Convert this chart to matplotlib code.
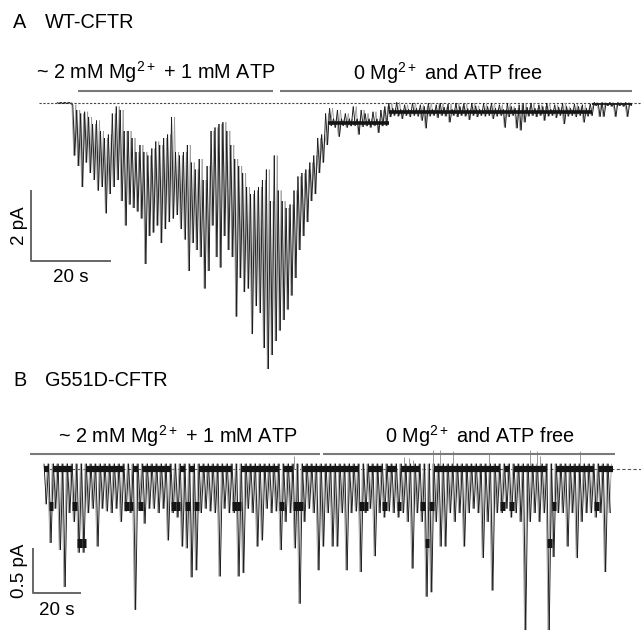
import numpy as np
import matplotlib
matplotlib.use("Agg")
import matplotlib.pyplot as plt
from matplotlib.collections import LineCollection

plt.rcParams['font.family'] = ['Liberation Sans', 'DejaVu Sans']
plt.rcParams['mathtext.fontset'] = 'custom'
plt.rcParams['mathtext.rm'] = 'Liberation Sans'
plt.rcParams['mathtext.default'] = 'regular'

W, H = 641, 639

# ---- panel A: WT-CFTR, 1 s samples, envelope of the current (pA)
a_t = np.arange(146)
a_hi = [0.02, 0.02, 0.02, 0.02, -0.05, -0.2, -0.3, -0.25, -0.4, -0.6,
        -0.5, -0.8, -1.0, -0.9, -0.3, -0.1, -0.2, -0.8, -0.8, -1.0,
        -1.4, -1.2, -1.4, -1.5, -1.3, -1.1, -1.2, -1.0, -0.9, -0.4,
        -1.4, -1.5, -1.4, -1.2, -1.7, -1.9, -1.6, -2.2, -1.8, -0.8,
        -0.7, -0.6, -0.55, -0.8, -1.2, -1.6, -1.8, -2.0, -2.4, -2.6,
        -2.5, -2.4, -2.2, -1.9, -2.8, -1.5, -2.5, -2.8, -3.0, -2.9,
        -2.5, -2.1, -2.0, -1.9, -1.7, -1.5, -1.0, -0.9, -0.3, -0.15,
        -0.45, -0.2, -0.45, -0.3, -0.45, -0.1, -0.45, -0.2, -0.3, -0.45,
        -0.25, -0.45, -0.2, -0.1, 0.0, -0.15, 0.02, -0.18, -0.05, -0.18,
        0.0, -0.15, -0.05, -0.1, 0.0, -0.18, -0.05, 0.0, -0.12, -0.03,
        -0.18, 0.0, -0.1, -0.02, -0.16, 0.0, -0.08, -0.18, -0.02, -0.1,
        0.0, -0.15, -0.05, -0.18, 0.0, -0.1, -0.15, -0.05, -0.02, -0.12,
        0.0, -0.15, -0.05, -0.1, 0.0, -0.18, -0.05, -0.12, 0.0, -0.1,
        -0.15, -0.03, -0.1, -0.05, -0.15, -0.02, 0.02, 0.0, 0.02, 0.0,
        0.02, 0.0, 0.02, 0.0, 0.02, 0.0]
a_lo = [-0.02, -0.02, -0.02, -0.02, -1.5, -1.8, -2.4, -1.7, -2.0, -2.2,
        -2.5, -2.4, -3.15, -2.6, -2.4, -2.2, -2.8, -3.5, -2.9, -3.0,
        -3.1, -3.3, -4.6, -3.8, -3.7, -3.5, -4.0, -3.6, -3.4, -3.3,
        -3.2, -3.6, -3.9, -4.8, -4.0, -4.2, -4.4, -5.3, -4.8, -3.5,
        -4.4, -4.7, -3.8, -4.2, -4.4, -6.1, -5.0, -5.4, -5.3, -6.6,
        -5.8, -6.0, -7.0, -7.6, -7.2, -6.8, -6.5, -6.2, -5.9, -5.5,
        -5.0, -4.2, -3.8, -3.4, -2.8, -2.6, -2.0, -1.7, -1.2, -0.65,
        -0.7, -0.96, -0.65, -0.7, -0.66, -0.65, -0.9, -0.68, -0.66, -0.7,
        -0.65, -0.85, -0.66, -0.65, -0.4, -0.36, -0.38, -0.45, -0.36, -0.4,
        -0.36, -0.38, -0.5, -0.72, -0.38, -0.36, -0.42, -0.36, -0.38, -0.55,
        -0.36, -0.4, -0.36, -0.38, -0.48, -0.36, -0.4, -0.36, -0.38, -0.36,
        -0.45, -0.38, -0.36, -0.7, -0.4, -0.36, -0.72, -0.78, -0.55, -0.38,
        -0.36, -0.4, -0.36, -0.5, -0.38, -0.36, -0.42, -0.36, -0.6, -0.38,
        -0.36, -0.4, -0.36, -0.55, -0.38, -0.36, -0.08, -0.39, -0.39, -0.08,
        -0.1, -0.39, -0.08, -0.1, -0.39, -0.08]
# plateaus after washout (start s, end s, pA)
a_plat_start = [68.5, 84.0, 135.5]
a_plat_end = [84.0, 135.5, 145.5]
a_plat_i = [-0.56, -0.27, -0.02]
a_sol_start = [5.3, 56.5]
a_sol_end = [54.7, 145.6]

# ---- panel B: G551D-CFTR, 2 s bins
b_t = np.arange(0, 242, 2)
b_lo = [-0.40, -0.84, -0.45, -0.92, -1.34, -0.50, -0.60, -0.95, -0.95, -0.50,
        -0.45, -0.88, -0.45, -0.48, -0.50, -0.45, -0.60, -0.48, -0.50, -1.60,
        -0.45, -0.62, -0.45, -0.45, -0.50, -0.45, -0.81, -0.50, -0.55, -0.88,
        -0.90, -1.23, -1.15, -0.50, -0.45, -0.48, -0.50, -1.22, -0.45, -0.50,
        -0.50, -1.22, -1.18, -0.45, -0.50, -0.88, -0.81, -0.45, -0.50, -0.48,
        -0.92, -0.60, -0.50, -0.90, -1.53, -0.60, -0.45, -0.50, -1.15, -0.88,
        -0.50, -0.88, -0.88, -0.50, -1.15, -0.50, -0.48, -1.17, -0.50, -0.45,
        -0.99, -0.50, -0.55, -0.48, -0.50, -0.55, -0.50, -0.60, -1.13, -0.50,
        -0.60, -1.45, -1.40, -0.60, -0.88, -0.88, -0.50, -0.60, -0.50, -0.88,
        -0.50, -0.45, -0.50, -1.01, -0.60, -1.38, -0.50, -0.50, -0.45, -0.55,
        -0.50, -0.60, -1.83, -0.60, -0.50, -0.60, -0.50, -1.83, -1.00, -0.50,
        -0.50, -0.88, -0.50, -1.01, -0.60, -0.50, -0.50, -0.55, -0.50, -1.17, -0.50]
b_open = [0, 1, 0, 0, 0, 0, 1, 2, 2, 0,
          0, 0, 0, 0, 0, 0, 0, 1, 1, 0,
          1, 0, 0, 0, 0, 0, 0, 1, 1, 0,
          1, 0, 1, 0, 0, 0, 0, 0, 0, 0,
          1, 1, 0, 0, 0, 0, 0, 0, 0, 0,
          1, 0, 0, 1, 1, 0, 0, 0, 0, 0,
          0, 0, 0, 0, 0, 0, 0, 1, 1, 0,
          0, 0, 1, 0, 0, 1, 0, 0, 0, 0,
          1, 2, 1, 0, 0, 0, 0, 0, 0, 0,
          0, 0, 0, 0, 0, 0, 0, 1, 0, 1,
          0, 0, 0, 0, 0, 0, 0, 2, 1, 0,
          0, 0, 0, 0, 0, 0, 0, 1, 0, 0, 0]
b_unit = -0.42
b_up_t = [106.5, 153, 155.5, 157, 165.7, 168.5, 174.2, 189.5, 206.8, 209.6, 211, 228.1]
b_up_i = [0.15, 0.14, 0.12, 0.1, 0.22, 0.22, 0.2, 0.17, 0.22, 0.2, 0.15, 0.2]
b_sol_start = [-6.0, 118.7]
b_sol_end = [117.4, 243.0]

BLACK = '#151515'
GRAY = '#999999'
BAR = '#7a7a7a'


def fx(x):
    return x / W


def fy(y):
    return 1 - y / H


def zigzag(ax, t, first, second, dt, lw, color, shift=0.0):
    t = np.asarray(t, float) + shift
    x = np.empty(2 * len(t))
    y = np.empty(2 * len(t))
    x[0::2] = t
    x[1::2] = t + dt
    y[0::2] = first
    y[1::2] = second
    pts = np.column_stack([x, y])
    segs = np.stack([pts[:-1], pts[1:]], axis=1)
    ax.add_collection(LineCollection(segs, colors=color, linewidths=lw))


fig = plt.figure(figsize=(W / 100, H / 100), dpi=100)

# ---------------- panel A
# 57 px = trace start, 3.95 px/s, baseline at 103 px, 35 px/pA
axA = fig.add_axes([0, fy(380), 1, (380 - 60) / H])
axA.set_xlim(-57 / 3.95, (W - 57) / 3.95)
axA.set_ylim(-(380 - 103) / 35, (103 - 60) / 35)
axA.axis('off')

axA.plot([-4.6, 148], [0, 0], ls=(0, (2, 1.5)), lw=0.8, color='#444444', zorder=1)
zigzag(axA, a_t, a_lo, a_hi, 0.5, 0.6, GRAY, shift=0.25)
zigzag(axA, a_t, a_hi, a_lo, 0.5, 0.65, BLACK)
for s, e, v, w in zip(a_plat_start, a_plat_end, a_plat_i, [2.6, 2.6, 1.2]):
    axA.plot([s, e], [v, v], color=BLACK, lw=w, solid_capstyle='butt', zorder=3)
for s, e in zip(a_sol_start, a_sol_end):
    axA.plot([s, e], [0.33, 0.33], color=BAR, lw=1.5, solid_capstyle='butt')

# scale bars 20 s, 2 pA
axA.plot([-6.6, -6.6, 13.4], [-2.5, -4.5, -4.5], color='#666666', lw=1.4)
axA.text(-9.6, -3.5, '2 pA', rotation=90, ha='center', va='center', fontsize=13.5)
axA.text(3.4, -4.98, '20 s', ha='center', va='center', fontsize=13.5)

fig.text(fx(13), fy(22), 'A', ha='left', va='center', fontsize=14.3)
fig.text(fx(45), fy(22), 'WT-CFTR', ha='left', va='center', fontsize=14.3)
fig.text(fx(156), fy(79), '~ 2 mM Mg$^{2+}$ + 1 mM ATP', ha='center', va='baseline', fontsize=14.3)
fig.text(fx(448), fy(80), '0 Mg$^{2+}$ and ATP free', ha='center', va='baseline', fontsize=14.3)

# ---------------- panel B
# 44 px = trace start, 2.35 px/s, baseline at 469 px, 88 px/pA
axB = fig.add_axes([0, 0, 1, (H - 400) / H])
axB.set_xlim(-44 / 2.35, (W - 44) / 2.35)
axB.set_ylim(-(H - 469) / 88, (469 - 400) / 88)
axB.axis('off')

axB.plot([0, 260], [0, 0], ls=(0, (3, 2)), lw=0.8, color='#555555', zorder=1)
b_top = [0.06] * len(b_t)
zigzag(axB, b_t, b_lo, b_top, 1.0, 0.6, GRAY, shift=0.5)
zigzag(axB, b_t, b_top, b_lo, 1.0, 0.65, BLACK)
axB.vlines(b_up_t, 0, b_up_i, color=GRAY, lw=0.7)
for t0, n in zip(b_t, b_open):
    axB.plot([t0, t0 + 2], [n * b_unit, n * b_unit], color=BLACK,
             lw=4.5 if n == 0 else 6.5, solid_capstyle='butt', zorder=3)
for s, e in zip(b_sol_start, b_sol_end):
    axB.plot([s, e], [0.17, 0.17], color=BAR, lw=1.5, solid_capstyle='butt')

# scale bars 20 s, 0.5 pA
axB.plot([-4.7, -4.7, 15.3], [-0.91, -1.41, -1.41], color='#666666', lw=1.4)
axB.text(-10.6, -1.16, '0.5 pA', rotation=90, ha='center', va='center', fontsize=13.5)
axB.text(5.3, -1.61, '20 s', ha='center', va='center', fontsize=13.5)

fig.text(fx(13), fy(381), 'B', ha='left', va='center', fontsize=14.3)
fig.text(fx(45), fy(381), 'G551D-CFTR', ha='left', va='center', fontsize=14.3)
fig.text(fx(178), fy(443), '~ 2 mM Mg$^{2+}$ + 1 mM ATP', ha='center', va='baseline', fontsize=14.3)
fig.text(fx(480), fy(443), '0 Mg$^{2+}$ and ATP free', ha='center', va='baseline', fontsize=14.3)

fig.savefig('out.png', dpi=100)
